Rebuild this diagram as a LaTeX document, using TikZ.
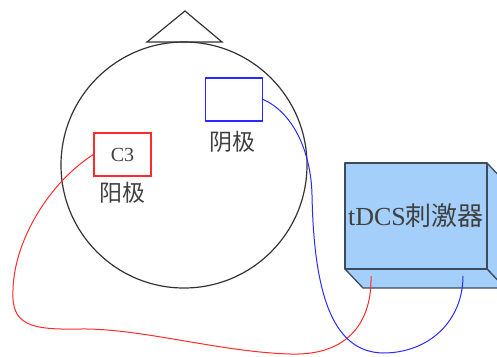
\documentclass[tikz,border=0pt]{standalone}
\usepackage{fontspec}
\setmainfont{Liberation Serif}
\newfontfamily\cjk{Noto Sans CJK SC}
\begin{document}
\begin{tikzpicture}[x=1pt,y=-1pt,
  outline/.style={draw=black!80,line width=1.2pt},
  electrode/.style={draw,line width=1.2pt,minimum width=57pt,minimum height=43pt,inner sep=0pt},
  txt/.style={text=black!75,inner sep=0pt},
  boxedge/.style={draw=stimedge,line width=1.3pt,line join=round,fill=stimfill},
  wire/.style={line width=1pt}]
\definecolor{stimfill}{HTML}{A3CFFA}
\definecolor{stimedge}{HTML}{3C4C5C}
\definecolor{wirered}{HTML}{FF2A2A}
\definecolor{wireblue}{HTML}{2A2AFF}
\useasboundingbox (0,0) rectangle (497,356);
\clip (0,0) rectangle (497,356);

% head outline and nose
\node[outline,circle,minimum size=246pt,inner sep=0pt] (head) at (184,165) {};
\draw[outline,line join=miter] (147,42) coordinate (noseL) -- (185,11) coordinate (noseTip) -- (222,42) coordinate (noseR) -- cycle;

% electrodes
\node[electrode,draw=wirered,txt] (anode) at (122.5,154.5) {\fontsize{20pt}{20pt}\selectfont C3};
\node[txt,font=\cjk\fontsize{23pt}{23pt}\selectfont] (anodetext) at (122,193) {阳极};
\node[electrode,draw=wireblue] (cathode) at (234,99.5) {};
\node[txt,font=\cjk\fontsize{23pt}{23pt}\selectfont] (cathodetext) at (232,142) {阴极};

% stimulator drawn as a box with depth toward the lower right
\draw[boxedge] (487,163) -- (505,182) -- (505,288) -- (487,269) -- cycle;
\draw[boxedge] (345,269) -- (487,269) -- (505,288) -- (363,288) -- cycle;
\node[boxedge,minimum width=142pt,minimum height=106pt,inner sep=0pt,txt,text=black!75] (stim) at (416,216)
  {\fontsize{26pt}{26pt}\selectfont tDCS{\cjk 刺激器}};
\coordinate (redpin) at (371,276);
\coordinate (bluepin) at (463,276);

% lead wires
\draw[wire,wirered] (anode.west) .. controls (50,182) and (14,240) .. (13,290)
  .. controls (11,325) and (30,330) .. (80,329)
  .. controls (140,328) and (220,352) .. (290,354)
  .. controls (350,356) and (372,320) .. (redpin);
\draw[wire,wireblue] (cathode.east) .. controls (292,112) and (311,150) .. (312,195)
  .. controls (314,300) and (335,352) .. (383,353)
  .. controls (430,353) and (463,320) .. (bluepin);
\end{tikzpicture}
\end{document}
